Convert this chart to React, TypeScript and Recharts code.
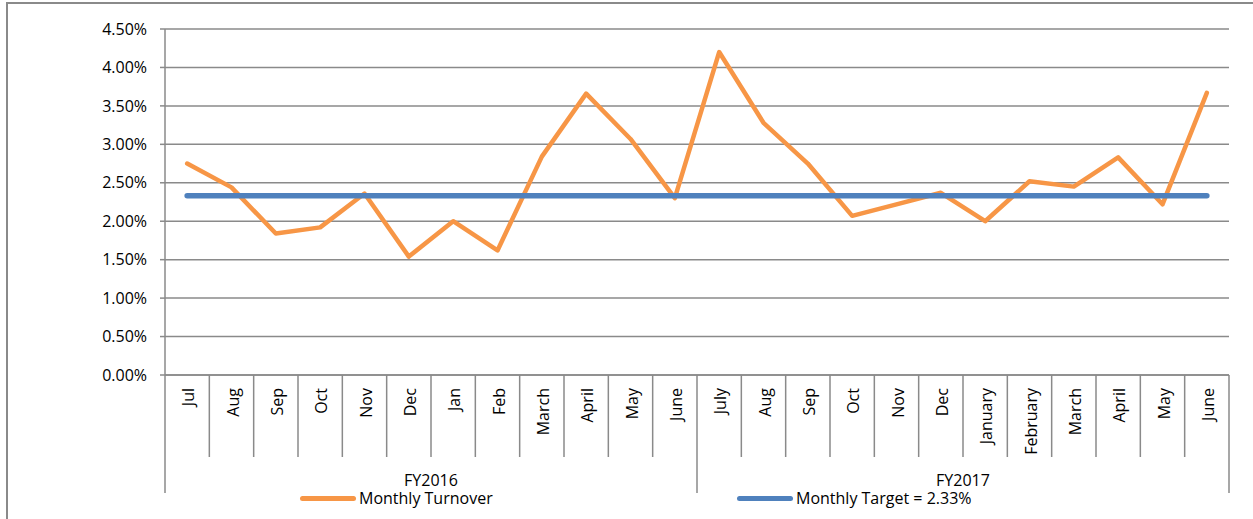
import React from 'react';
import { LineChart, Line, XAxis, YAxis, CartesianGrid, Legend } from 'recharts';

const months = [
  'Jul', 'Aug', 'Sep', 'Oct', 'Nov', 'Dec', 'Jan', 'Feb', 'March', 'April', 'May', 'June',
  'July', 'Aug', 'Sep', 'Oct', 'Nov', 'Dec', 'January', 'February', 'March', 'April', 'May', 'June',
];
const fiscalYears = ['FY2016', 'FY2017'];
const turnover = [
  2.75, 2.44, 1.84, 1.92, 2.36, 1.54, 2.0, 1.62, 2.84, 3.66, 3.07, 2.3,
  4.2, 3.28, 2.75, 2.07, 2.22, 2.37, 2.0, 2.52, 2.45, 2.83, 2.22, 3.67,
];
const monthlyTarget = 2.33;
const yTicks = [0, 0.5, 1, 1.5, 2, 2.5, 3, 3.5, 4, 4.5];
const seriesNames = ['Monthly Turnover', 'Monthly Target = 2.33%'];

const W = 1253;
const H = 519;
const MARGIN = { top: 29, right: 24, bottom: 26, left: 0 };
const Y_AXIS_W = 165;
const PLOT_W = W - MARGIN.left - MARGIN.right - Y_AXIS_W;
const STEP = PLOT_W / months.length;
const MONTH_AXIS_H = 95;
const FY_AXIS_H = 23;
const FONT = '"Open Sans", sans-serif';
const AXIS_GRAY = '#8a8a8a';

const data = months.map((m, i) => ({
  month: m,
  fy: fiscalYears[Math.floor(i / 12)],
  turnover: turnover[i],
  target: monthlyTarget,
}));

const MonthTick = (props: any) => {
  const { x, y, payload, index } = props;
  const left = x - STEP / 2;
  const groupStart = index % 12 === 0;
  const tx = x + 1;
  const ty = y + 13;
  return (
    <g>
      <line x1={left} y1={y} x2={left} y2={y + (groupStart ? MONTH_AXIS_H + FY_AXIS_H : 82)} stroke={AXIS_GRAY} strokeWidth={1.5} />
      {index === months.length - 1 && (
        <line x1={x + STEP / 2} y1={y} x2={x + STEP / 2} y2={y + MONTH_AXIS_H + FY_AXIS_H} stroke={AXIS_GRAY} strokeWidth={1.5} />
      )}
      <text
        x={tx}
        y={ty}
        transform={`rotate(-90, ${tx}, ${ty})`}
        textAnchor="end"
        dominantBaseline="central"
        fontFamily={FONT}
        fontSize={16}
        fill="#000"
      >
        {payload.value}
      </text>
    </g>
  );
};

const FyTick = (props: any) => {
  const { x, y, payload } = props;
  return (
    <text x={x} y={y + 10} textAnchor="middle" dominantBaseline="central" fontFamily={FONT} fontSize={16} fill="#000">
      {payload.value}
    </text>
  );
};

const legendLefts = [300, 737];

const renderLegend = (props: any) => {
  const { payload = [] } = props;
  const items = seriesNames
    .map((name) => payload.find((p: any) => p.value === name))
    .filter(Boolean);
  return (
    <div style={{ position: 'relative', width: W, height: 18, fontFamily: FONT, fontSize: 16, color: '#000' }}>
      {items.map((item: any, i: number) => (
        <div key={item.value} style={{ position: 'absolute', left: legendLefts[i], top: 0, display: 'flex', alignItems: 'center', height: 18, whiteSpace: 'nowrap' }}>
          <span style={{ display: 'inline-block', width: 56, height: 5, borderRadius: 3, background: item.color, marginRight: 3 }} />
          <span style={{ lineHeight: '18px' }}>{item.value}</span>
        </div>
      ))}
    </div>
  );
};

export default function App() {
  return (
    <div style={{ position: 'absolute', left: 0, top: 0, width: W, height: H, overflow: 'hidden', background: '#fff' }}>
      <div style={{ position: 'absolute', left: 6, top: 2, width: 1400, height: 700, borderLeft: `2px solid ${AXIS_GRAY}`, borderTop: `2px solid ${AXIS_GRAY}` }} />
      <div style={{ position: 'absolute', left: 0, top: 0 }}>
        <LineChart width={W} height={H} data={data} margin={MARGIN}>
          <CartesianGrid vertical={false} stroke={AXIS_GRAY} strokeWidth={1.5} />
          <XAxis
            dataKey="month"
            interval={0}
            padding={{ left: STEP / 2, right: STEP / 2 }}
            height={MONTH_AXIS_H}
            tickSize={0}
            tickMargin={0}
            tickLine={false}
            axisLine={{ stroke: AXIS_GRAY, strokeWidth: 1.5 }}
            tick={<MonthTick />}
          />
          <XAxis
            xAxisId="fy"
            dataKey="fy"
            allowDuplicatedCategory={false}
            interval={0}
            padding={{ left: PLOT_W / 4, right: PLOT_W / 4 }}
            height={FY_AXIS_H}
            tickSize={0}
            tickMargin={0}
            tickLine={false}
            axisLine={false}
            tick={<FyTick />}
          />
          <YAxis
            width={Y_AXIS_W}
            domain={[0, 4.5]}
            ticks={yTicks}
            interval={0}
            tickFormatter={(v: number) => `${v.toFixed(2)}%`}
            tickSize={5}
            tickMargin={13}
            tickLine={{ stroke: AXIS_GRAY, strokeWidth: 1.5 }}
            axisLine={{ stroke: AXIS_GRAY, strokeWidth: 1.5 }}
            tick={{ fontFamily: FONT, fontSize: 16, fill: '#000' }}
          />
          <Line
            type="linear"
            dataKey="turnover"
            name={seriesNames[0]}
            stroke="#f79646"
            strokeWidth={4.5}
            strokeLinejoin="round"
            strokeLinecap="round"
            dot={false}
            activeDot={false}
            isAnimationActive={false}
          />
          <Line
            type="linear"
            dataKey="target"
            name={seriesNames[1]}
            stroke="#4f81bd"
            strokeWidth={5.5}
            strokeLinecap="round"
            dot={false}
            activeDot={false}
            isAnimationActive={false}
          />
          <Legend
            verticalAlign="middle"
            layout="horizontal"
            content={renderLegend}
            wrapperStyle={{ left: 0, top: 489, width: W, height: 18 }}
          />
        </LineChart>
      </div>
    </div>
  );
}
